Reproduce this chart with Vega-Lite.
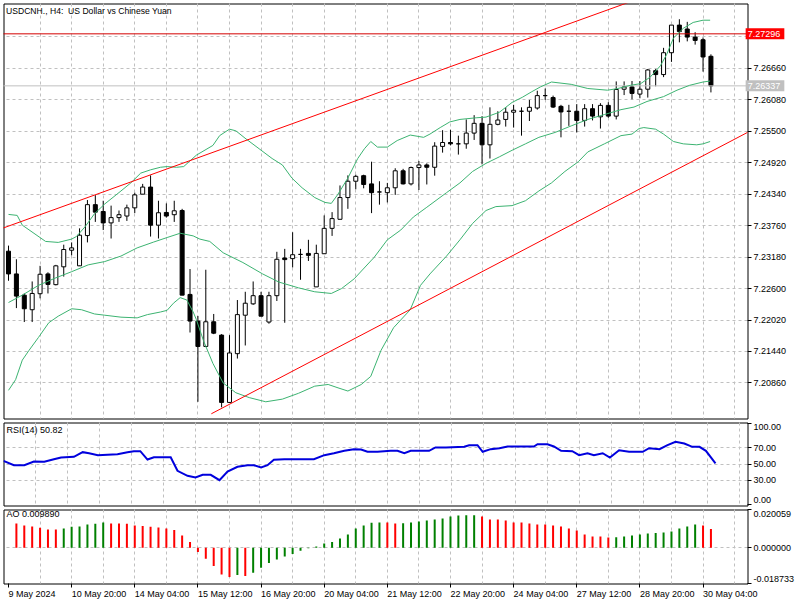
{
  "$schema": "https://vega.github.io/schema/vega-lite/v6.json",
  "background": "white",
  "padding": {"left": 2.5, "top": 2.5, "right": 0, "bottom": 0},
  "spacing": 2,
  "config": {
    "view": {"stroke": "#000000", "strokeWidth": 1},
    "font": "Liberation Sans",
    "axis": {"labelFont": "Liberation Sans", "labelFontSize": 9, "labelColor": "#000000", "tickColor": "#000000", "tickWidth": 1, "gridColor": "#c0c0c0", "gridDash": [3, 3], "gridWidth": 1, "domain": false, "translate": 0, "labelOverlap": false, "tickCount": 40},
    "title": {"font": "Liberation Sans", "fontWeight": "normal", "color": "#000000", "anchor": "start"}
  },
  "datasets": {
    "candles": [
      {"i":0,"o":7.23289,"h":7.23392,"l":7.22744,"c":7.22870},
      {"i":1,"o":7.22870,"h":7.23140,"l":7.22240,"c":7.22461},
      {"i":2,"o":7.22479,"h":7.22510,"l":7.21983,"c":7.22228},
      {"i":3,"o":7.22210,"h":7.22731,"l":7.21983,"c":7.22510},
      {"i":4,"o":7.22505,"h":7.23019,"l":7.22420,"c":7.22864},
      {"i":5,"o":7.22870,"h":7.22900,"l":7.22510,"c":7.22677},
      {"i":6,"o":7.22672,"h":7.23037,"l":7.22659,"c":7.23019},
      {"i":7,"o":7.23001,"h":7.23409,"l":7.22821,"c":7.23320},
      {"i":8,"o":7.23307,"h":7.23451,"l":7.23212,"c":7.23350},
      {"i":9,"o":7.23019,"h":7.23710,"l":7.23019,"c":7.23584},
      {"i":10,"o":7.23577,"h":7.24232,"l":7.23451,"c":7.24147},
      {"i":11,"o":7.24147,"h":7.24322,"l":7.23829,"c":7.24009},
      {"i":12,"o":7.24021,"h":7.24219,"l":7.23679,"c":7.23811},
      {"i":13,"o":7.23811,"h":7.24129,"l":7.23523,"c":7.23908},
      {"i":14,"o":7.23908,"h":7.24039,"l":7.23829,"c":7.23962},
      {"i":15,"o":7.23937,"h":7.24147,"l":7.23847,"c":7.24088},
      {"i":16,"o":7.24088,"h":7.24368,"l":7.23991,"c":7.24327},
      {"i":17,"o":7.24340,"h":7.24530,"l":7.24340,"c":7.24471},
      {"i":18,"o":7.24471,"h":7.24687,"l":7.23559,"c":7.23769},
      {"i":19,"o":7.23769,"h":7.24219,"l":7.23523,"c":7.23998},
      {"i":20,"o":7.24003,"h":7.24170,"l":7.23908,"c":7.23937},
      {"i":21,"o":7.23962,"h":7.24219,"l":7.23829,"c":7.24034},
      {"i":22,"o":7.24039,"h":7.24070,"l":7.22479,"c":7.22479},
      {"i":23,"o":7.22492,"h":7.22960,"l":7.21790,"c":7.22001},
      {"i":24,"o":7.22001,"h":7.22096,"l":7.20513,"c":7.21533},
      {"i":25,"o":7.21533,"h":7.22947,"l":7.21521,"c":7.21988},
      {"i":26,"o":7.21988,"h":7.22132,"l":7.21760,"c":7.21778},
      {"i":27,"o":7.21742,"h":7.21760,"l":7.20411,"c":7.20501},
      {"i":28,"o":7.20501,"h":7.21742,"l":7.20490,"c":7.21413},
      {"i":29,"o":7.21400,"h":7.22389,"l":7.21310,"c":7.22120},
      {"i":30,"o":7.22109,"h":7.22541,"l":7.21551,"c":7.22330},
      {"i":31,"o":7.22318,"h":7.22731,"l":7.22300,"c":7.22469},
      {"i":32,"o":7.22469,"h":7.22541,"l":7.22091,"c":7.22091},
      {"i":33,"o":7.21983,"h":7.22541,"l":7.21952,"c":7.22469},
      {"i":34,"o":7.22469,"h":7.23278,"l":7.22371,"c":7.23140},
      {"i":35,"o":7.23163,"h":7.23332,"l":7.21970,"c":7.23134},
      {"i":36,"o":7.23152,"h":7.23638,"l":7.22990,"c":7.23224},
      {"i":37,"o":7.23230,"h":7.23332,"l":7.22762,"c":7.23230},
      {"i":38,"o":7.23248,"h":7.23499,"l":7.23109,"c":7.23212},
      {"i":39,"o":7.22631,"h":7.23409,"l":7.22631,"c":7.23248},
      {"i":40,"o":7.23242,"h":7.23949,"l":7.23242,"c":7.23710},
      {"i":41,"o":7.23710,"h":7.24009,"l":7.23571,"c":7.23890},
      {"i":42,"o":7.23877,"h":7.24501,"l":7.23877,"c":7.24278},
      {"i":43,"o":7.24278,"h":7.24687,"l":7.24070,"c":7.24579},
      {"i":44,"o":7.24579,"h":7.24699,"l":7.24430,"c":7.24669},
      {"i":45,"o":7.24681,"h":7.24699,"l":7.24448,"c":7.24519},
      {"i":46,"o":7.24530,"h":7.24939,"l":7.23991,"c":7.24368},
      {"i":47,"o":7.24381,"h":7.24579,"l":7.24147,"c":7.24381},
      {"i":48,"o":7.24368,"h":7.24548,"l":7.24188,"c":7.24458},
      {"i":49,"o":7.24458,"h":7.24818,"l":7.24327,"c":7.24771},
      {"i":50,"o":7.24771,"h":7.24807,"l":7.24519,"c":7.24530},
      {"i":51,"o":7.24530,"h":7.24849,"l":7.24501,"c":7.24831},
      {"i":52,"o":7.24831,"h":7.24951,"l":7.24417,"c":7.24879},
      {"i":53,"o":7.24879,"h":7.24908,"l":7.24519,"c":7.24836},
      {"i":54,"o":7.24836,"h":7.25298,"l":7.24681,"c":7.25226},
      {"i":55,"o":7.25221,"h":7.25520,"l":7.25106,"c":7.25293},
      {"i":56,"o":7.25293,"h":7.25527,"l":7.25239,"c":7.25268},
      {"i":57,"o":7.25268,"h":7.25419,"l":7.25070,"c":7.25268},
      {"i":58,"o":7.25268,"h":7.25718,"l":7.25178,"c":7.25466},
      {"i":59,"o":7.25466,"h":7.25797,"l":7.25340,"c":7.25646},
      {"i":60,"o":7.25646,"h":7.25779,"l":7.24890,"c":7.25250},
      {"i":61,"o":7.25250,"h":7.25941,"l":7.24998,"c":7.25628},
      {"i":62,"o":7.25628,"h":7.25869,"l":7.25610,"c":7.25707},
      {"i":63,"o":7.25718,"h":7.25946,"l":7.25586,"c":7.25851},
      {"i":64,"o":7.25851,"h":7.25987,"l":7.25568,"c":7.25887},
      {"i":65,"o":7.25869,"h":7.25941,"l":7.25419,"c":7.25869},
      {"i":66,"o":7.25869,"h":7.26077,"l":7.25689,"c":7.25941},
      {"i":67,"o":7.25928,"h":7.26247,"l":7.25898,"c":7.26157},
      {"i":68,"o":7.26157,"h":7.26288,"l":7.26077,"c":7.26157},
      {"i":69,"o":7.26121,"h":7.26157,"l":7.25928,"c":7.25946},
      {"i":70,"o":7.25959,"h":7.25987,"l":7.25388,"c":7.25856},
      {"i":71,"o":7.25869,"h":7.25987,"l":7.25599,"c":7.25869},
      {"i":72,"o":7.25869,"h":7.26000,"l":7.25478,"c":7.25700},
      {"i":73,"o":7.25700,"h":7.26000,"l":7.25586,"c":7.25916},
      {"i":74,"o":7.25916,"h":7.26000,"l":7.25700,"c":7.25779},
      {"i":75,"o":7.25766,"h":7.26018,"l":7.25550,"c":7.25977},
      {"i":76,"o":7.25977,"h":7.26036,"l":7.25748,"c":7.25779},
      {"i":77,"o":7.25779,"h":7.26419,"l":7.25718,"c":7.26270},
      {"i":78,"o":7.26275,"h":7.26419,"l":7.26167,"c":7.26318},
      {"i":79,"o":7.26318,"h":7.26426,"l":7.26090,"c":7.26198},
      {"i":80,"o":7.26185,"h":7.26426,"l":7.26108,"c":7.26275},
      {"i":81,"o":7.26275,"h":7.26648,"l":7.26121,"c":7.26630},
      {"i":82,"o":7.26617,"h":7.26648,"l":7.26329,"c":7.26545},
      {"i":83,"o":7.26545,"h":7.27038,"l":7.26498,"c":7.26948},
      {"i":84,"o":7.26948,"h":7.27457,"l":7.26779,"c":7.27457},
      {"i":85,"o":7.27457,"h":7.27565,"l":7.27139,"c":7.27337},
      {"i":86,"o":7.27385,"h":7.27517,"l":7.27157,"c":7.27236},
      {"i":87,"o":7.27236,"h":7.27326,"l":7.27097,"c":7.27175},
      {"i":88,"o":7.27187,"h":7.27229,"l":7.26599,"c":7.26869},
      {"i":89,"o":7.26882,"h":7.26918,"l":7.26216,"c":7.26337}
    ],
    "bb": [
      {"b":"u","i":0,"v":7.23967},{"b":"u","i":1.1,"v":7.23949},{"b":"u","i":1.75,"v":7.23769},{"b":"u","i":4.7,"v":7.23469},{"b":"u","i":6.3,"v":7.23451},{"b":"u","i":8,"v":7.23512},{"b":"u","i":8.6,"v":7.23559},{"b":"u","i":9.7,"v":7.23739},{"b":"u","i":10.9,"v":7.23980},{"b":"u","i":12.2,"v":7.24160},{"b":"u","i":14.25,"v":7.24399},{"b":"u","i":15.5,"v":7.24548},{"b":"u","i":16.75,"v":7.24728},{"b":"u","i":18,"v":7.24789},{"b":"u","i":19.25,"v":7.24836},{"b":"u","i":20.1,"v":7.24849},{"b":"u","i":21.3,"v":7.24836},{"b":"u","i":22.2,"v":7.24849},{"b":"u","i":23.8,"v":7.25059},{"b":"u","i":25.9,"v":7.25239},{"b":"u","i":26.75,"v":7.25419},{"b":"u","i":28,"v":7.25538},{"b":"u","i":28.8,"v":7.25509},{"b":"u","i":30.1,"v":7.25358},{"b":"u","i":31.75,"v":7.25178},{"b":"u","i":33.4,"v":7.24998},{"b":"u","i":34.7,"v":7.24879},{"b":"u","i":35.9,"v":7.24638},{"b":"u","i":37.2,"v":7.24458},{"b":"u","i":38.8,"v":7.24278},{"b":"u","i":40.1,"v":7.24188},{"b":"u","i":40.9,"v":7.24170},{"b":"u","i":41.75,"v":7.24340},{"b":"u","i":43,"v":7.24638},{"b":"u","i":44.25,"v":7.24998},{"b":"u","i":45.1,"v":7.25178},{"b":"u","i":45.9,"v":7.25311},{"b":"u","i":46.75,"v":7.25208},{"b":"u","i":48,"v":7.25208},{"b":"u","i":49.25,"v":7.25329},{"b":"u","i":50.9,"v":7.25430},{"b":"u","i":52.6,"v":7.25388},{"b":"u","i":53.4,"v":7.25448},{"b":"u","i":54.7,"v":7.25568},{"b":"u","i":55.9,"v":7.25671},{"b":"u","i":57.2,"v":7.25718},{"b":"u","i":59.25,"v":7.25748},{"b":"u","i":60.5,"v":7.25761},{"b":"u","i":62.2,"v":7.25851},{"b":"u","i":63.8,"v":7.26031},{"b":"u","i":65.1,"v":7.26126},{"b":"u","i":66.3,"v":7.26229},{"b":"u","i":67.4,"v":7.26318},{"b":"u","i":68.8,"v":7.26408},{"b":"u","i":71.3,"v":7.26365},{"b":"u","i":73.4,"v":7.26288},{"b":"u","i":75.9,"v":7.26257},{"b":"u","i":77.2,"v":7.26288},{"b":"u","i":78.8,"v":7.26347},{"b":"u","i":80.1,"v":7.26378},{"b":"u","i":81.3,"v":7.26498},{"b":"u","i":82.6,"v":7.26707},{"b":"u","i":83.4,"v":7.26918},{"b":"u","i":84.25,"v":7.27218},{"b":"u","i":85.5,"v":7.27398},{"b":"u","i":86.75,"v":7.27506},{"b":"u","i":88,"v":7.27547},{"b":"u","i":88.9,"v":7.27547},
      {"b":"m","i":0,"v":7.22343},{"b":"m","i":1.75,"v":7.22479},{"b":"m","i":3.8,"v":7.22659},{"b":"m","i":5.9,"v":7.22792},{"b":"m","i":8,"v":7.22911},{"b":"m","i":10.1,"v":7.23037},{"b":"m","i":12.2,"v":7.23098},{"b":"m","i":14.25,"v":7.23199},{"b":"m","i":16.3,"v":7.23350},{"b":"m","i":18.4,"v":7.23458},{"b":"m","i":20.1,"v":7.23541},{"b":"m","i":21.75,"v":7.23620},{"b":"m","i":23.4,"v":7.23571},{"b":"m","i":24.25,"v":7.23512},{"b":"m","i":25.5,"v":7.23469},{"b":"m","i":27.2,"v":7.23260},{"b":"m","i":29.7,"v":7.23080},{"b":"m","i":32.2,"v":7.22870},{"b":"m","i":34.25,"v":7.22720},{"b":"m","i":36.75,"v":7.22613},{"b":"m","i":38.8,"v":7.22541},{"b":"m","i":40.9,"v":7.22510},{"b":"m","i":42.2,"v":7.22600},{"b":"m","i":43.8,"v":7.22780},{"b":"m","i":45.9,"v":7.23109},{"b":"m","i":46.3,"v":7.23170},{"b":"m","i":48,"v":7.23499},{"b":"m","i":49.7,"v":7.23679},{"b":"m","i":51.3,"v":7.23919},{"b":"m","i":53,"v":7.24099},{"b":"m","i":55.5,"v":7.24368},{"b":"m","i":57.2,"v":7.24548},{"b":"m","i":58.8,"v":7.24759},{"b":"m","i":60.5,"v":7.24908},{"b":"m","i":62.2,"v":7.25029},{"b":"m","i":63.8,"v":7.25149},{"b":"m","i":65.5,"v":7.25268},{"b":"m","i":67.2,"v":7.25388},{"b":"m","i":69.25,"v":7.25478},{"b":"m","i":71.3,"v":7.25599},{"b":"m","i":73.4,"v":7.25718},{"b":"m","i":75.5,"v":7.25808},{"b":"m","i":77.6,"v":7.25898},{"b":"m","i":79.25,"v":7.25946},{"b":"m","i":80.9,"v":7.26049},{"b":"m","i":83,"v":7.26139},{"b":"m","i":84.7,"v":7.26257},{"b":"m","i":86.3,"v":7.26347},{"b":"m","i":88,"v":7.26408},{"b":"m","i":88.9,"v":7.26426},
      {"b":"l","i":0,"v":7.20724},{"b":"l","i":0.9,"v":7.20921},{"b":"l","i":1.75,"v":7.21281},{"b":"l","i":2.6,"v":7.21461},{"b":"l","i":3.8,"v":7.21700},{"b":"l","i":5.1,"v":7.21970},{"b":"l","i":6.3,"v":7.22091},{"b":"l","i":8,"v":7.22228},{"b":"l","i":9.25,"v":7.22210},{"b":"l","i":10.9,"v":7.22132},{"b":"l","i":12.2,"v":7.22109},{"b":"l","i":14.25,"v":7.22073},{"b":"l","i":16.3,"v":7.22060},{"b":"l","i":17.6,"v":7.22120},{"b":"l","i":19.25,"v":7.22168},{"b":"l","i":20.1,"v":7.22199},{"b":"l","i":20.9,"v":7.22330},{"b":"l","i":21.75,"v":7.22433},{"b":"l","i":22.6,"v":7.22389},{"b":"l","i":23.4,"v":7.22168},{"b":"l","i":23.8,"v":7.22030},{"b":"l","i":24.7,"v":7.21641},{"b":"l","i":25.9,"v":7.21220},{"b":"l","i":27.2,"v":7.20860},{"b":"l","i":28.8,"v":7.20680},{"b":"l","i":30.5,"v":7.20590},{"b":"l","i":32.6,"v":7.20513},{"b":"l","i":34.7,"v":7.20562},{"b":"l","i":36.75,"v":7.20670},{"b":"l","i":38.8,"v":7.20801},{"b":"l","i":40.5,"v":7.20832},{"b":"l","i":41.75,"v":7.20770},{"b":"l","i":43,"v":7.20711},{"b":"l","i":44.7,"v":7.20832},{"b":"l","i":45.9,"v":7.20981},{"b":"l","i":47.2,"v":7.21461},{"b":"l","i":48.8,"v":7.21880},{"b":"l","i":50.9,"v":7.22210},{"b":"l","i":52.2,"v":7.22659},{"b":"l","i":53.4,"v":7.22870},{"b":"l","i":55.5,"v":7.23199},{"b":"l","i":57.2,"v":7.23499},{"b":"l","i":58.8,"v":7.23800},{"b":"l","i":60.5,"v":7.24039},{"b":"l","i":61.75,"v":7.24111},{"b":"l","i":63.8,"v":7.24129},{"b":"l","i":65.5,"v":7.24219},{"b":"l","i":67.2,"v":7.24399},{"b":"l","i":68.8,"v":7.24548},{"b":"l","i":70.5,"v":7.24759},{"b":"l","i":72.2,"v":7.24939},{"b":"l","i":73.4,"v":7.25119},{"b":"l","i":75.5,"v":7.25268},{"b":"l","i":77.6,"v":7.25419},{"b":"l","i":79,"v":7.25448},{"b":"l","i":79.9,"v":7.25550},{"b":"l","i":80.5,"v":7.25568},{"b":"l","i":82,"v":7.25538},{"b":"l","i":83,"v":7.25448},{"b":"l","i":84.25,"v":7.25311},{"b":"l","i":85.5,"v":7.25268},{"b":"l","i":87.2,"v":7.25250},{"b":"l","i":88,"v":7.25268},{"b":"l","i":88.9,"v":7.25311}
    ],
    "channel": [
      {"line":"upper","i":-1,"v":7.23699},{"line":"upper","i":95,"v":7.28739},
      {"line":"lower","i":25.7,"v":7.20292},{"line":"lower","i":95,"v":7.25583}
    ],
    "rsi": [
      {"i":0,"v":53.9},{"i":1.3,"v":48.5},{"i":2.6,"v":48.5},{"i":3.8,"v":53.1},{"i":5.1,"v":52.7},{"i":6.3,"v":55.9},{"i":7.2,"v":58.0},{"i":8.8,"v":58.9},{"i":9.9,"v":64.6},{"i":10.7,"v":63.3},{"i":11.8,"v":60.9},{"i":13,"v":61.4},{"i":14.25,"v":62.1},{"i":15.5,"v":64.6},{"i":16.3,"v":65.8},{"i":17.1,"v":65.8},{"i":18,"v":55.5},{"i":18.8,"v":58.4},{"i":20.9,"v":58.4},{"i":21.75,"v":41.6},{"i":23,"v":35.4},{"i":24,"v":33.3},{"i":24.9,"v":36.7},{"i":25.9,"v":36.7},{"i":27,"v":30.0},{"i":28,"v":40.7},{"i":29.25,"v":46.5},{"i":30.5,"v":48.5},{"i":31.3,"v":48.5},{"i":32.2,"v":45.7},{"i":33,"v":48.5},{"i":33.8,"v":55.2},{"i":35.1,"v":55.9},{"i":38.8,"v":55.9},{"i":40.1,"v":60.9},{"i":41.3,"v":63.3},{"i":42.6,"v":66.3},{"i":43.8,"v":68.3},{"i":44.7,"v":67.9},{"i":45.5,"v":65.1},{"i":46.75,"v":65.1},{"i":48.4,"v":66.3},{"i":49.25,"v":66.3},{"i":50.1,"v":63.3},{"i":50.9,"v":66.3},{"i":52.2,"v":66.3},{"i":53.2,"v":66.3},{"i":54,"v":70.4},{"i":55.3,"v":70.4},{"i":57.6,"v":71.2},{"i":58.2,"v":73.2},{"i":59.25,"v":73.2},{"i":59.9,"v":65.1},{"i":60.9,"v":68.3},{"i":62,"v":69.5},{"i":63,"v":71.6},{"i":65.1,"v":71.6},{"i":66.3,"v":71.6},{"i":66.75,"v":74.4},{"i":68,"v":74.4},{"i":68.8,"v":71.6},{"i":69.7,"v":66.3},{"i":71.1,"v":65.8},{"i":71.95,"v":60.9},{"i":73,"v":63.3},{"i":73.8,"v":60.9},{"i":74.9,"v":63.3},{"i":75.8,"v":58.0},{"i":76.95,"v":67.0},{"i":78.2,"v":65.1},{"i":79.9,"v":65.1},{"i":80.7,"v":69.5},{"i":82,"v":68.3},{"i":83,"v":73.2},{"i":84,"v":77.4},{"i":85.1,"v":75.3},{"i":86.1,"v":71.2},{"i":87,"v":71.2},{"i":87.8,"v":66.3},{"i":89,"v":50.82}
    ],
    "ao": [
      {"i":1,"v":0.01275,"dir":"d"},{"i":2,"v":0.01171,"dir":"d"},{"i":3,"v":0.01118,"dir":"d"},{"i":4,"v":0.01048,"dir":"d"},{"i":5,"v":0.00961,"dir":"d"},{"i":6,"v":0.00955,"dir":"d"},{"i":7,"v":0.01013,"dir":"u"},{"i":8,"v":0.01101,"dir":"u"},{"i":9,"v":0.01118,"dir":"u"},{"i":10,"v":0.01223,"dir":"u"},{"i":11,"v":0.01258,"dir":"u"},{"i":12,"v":0.01328,"dir":"u"},{"i":13,"v":0.01275,"dir":"d"},{"i":14,"v":0.01270,"dir":"d"},{"i":15,"v":0.01265,"dir":"d"},{"i":16,"v":0.01171,"dir":"d"},{"i":17,"v":0.01136,"dir":"d"},{"i":18,"v":0.01101,"dir":"d"},{"i":19,"v":0.01066,"dir":"d"},{"i":20,"v":0.01013,"dir":"d"},{"i":21,"v":0.00926,"dir":"d"},{"i":22,"v":0.00646,"dir":"d"},{"i":23,"v":0.00297,"dir":"d"},{"i":24,"v":-0.00227,"dir":"d"},{"i":25,"v":-0.00577,"dir":"d"},{"i":26,"v":-0.00961,"dir":"d"},{"i":27,"v":-0.01398,"dir":"d"},{"i":28,"v":-0.01537,"dir":"d"},{"i":29,"v":-0.01433,"dir":"u"},{"i":30,"v":-0.01485,"dir":"d"},{"i":31,"v":-0.01310,"dir":"u"},{"i":32,"v":-0.01048,"dir":"u"},{"i":33,"v":-0.00804,"dir":"u"},{"i":34,"v":-0.00611,"dir":"u"},{"i":35,"v":-0.00454,"dir":"u"},{"i":36,"v":-0.00332,"dir":"u"},{"i":37,"v":-0.00157,"dir":"u"},{"i":38,"v":-0.00020,"dir":"u"},{"i":39,"v":0.00070,"dir":"u"},{"i":40,"v":0.00227,"dir":"u"},{"i":41,"v":0.00297,"dir":"u"},{"i":42,"v":0.00489,"dir":"u"},{"i":43,"v":0.00699,"dir":"u"},{"i":44,"v":0.01013,"dir":"u"},{"i":45,"v":0.01171,"dir":"u"},{"i":46,"v":0.01310,"dir":"u"},{"i":47,"v":0.01328,"dir":"u"},{"i":48,"v":0.01320,"dir":"d"},{"i":49,"v":0.01275,"dir":"d"},{"i":50,"v":0.01280,"dir":"u"},{"i":51,"v":0.01328,"dir":"u"},{"i":52,"v":0.01380,"dir":"u"},{"i":53,"v":0.01433,"dir":"u"},{"i":54,"v":0.01485,"dir":"u"},{"i":55,"v":0.01537,"dir":"u"},{"i":56,"v":0.01642,"dir":"u"},{"i":57,"v":0.01695,"dir":"u"},{"i":58,"v":0.01700,"dir":"u"},{"i":59,"v":0.01705,"dir":"u"},{"i":60,"v":0.01642,"dir":"d"},{"i":61,"v":0.01485,"dir":"d"},{"i":62,"v":0.01480,"dir":"d"},{"i":63,"v":0.01433,"dir":"d"},{"i":64,"v":0.01328,"dir":"d"},{"i":65,"v":0.01320,"dir":"d"},{"i":66,"v":0.01275,"dir":"d"},{"i":67,"v":0.01223,"dir":"d"},{"i":68,"v":0.01218,"dir":"d"},{"i":69,"v":0.01171,"dir":"d"},{"i":70,"v":0.01118,"dir":"d"},{"i":71,"v":0.01013,"dir":"d"},{"i":72,"v":0.00908,"dir":"d"},{"i":73,"v":0.00699,"dir":"d"},{"i":74,"v":0.00594,"dir":"d"},{"i":75,"v":0.00590,"dir":"d"},{"i":76,"v":0.00542,"dir":"d"},{"i":77,"v":0.00545,"dir":"u"},{"i":78,"v":0.00594,"dir":"u"},{"i":79,"v":0.00646,"dir":"u"},{"i":80,"v":0.00699,"dir":"u"},{"i":81,"v":0.00751,"dir":"u"},{"i":82,"v":0.00769,"dir":"u"},{"i":83,"v":0.00804,"dir":"u"},{"i":84,"v":0.00856,"dir":"u"},{"i":85,"v":0.01013,"dir":"u"},{"i":86,"v":0.01118,"dir":"u"},{"i":87,"v":0.01223,"dir":"u"},{"i":88,"v":0.01171,"dir":"d"},{"i":89,"v":0.00989,"dir":"d"}
    ]
  },
  "vconcat": [
    {
      "width": 744,
      "height": 415,
      "title": {"text": "USDCNH., H4:\u00a0 US Dollar vs Chinese Yuan", "fontSize": 8.6, "offset": -12, "dx": 3},
      "layer": [
        {
          "data": {"name": "candles"},
          "mark": {"type": "rule", "color": "#000000", "strokeWidth": 1, "clip": true},
          "encoding": {
            "x": {"field": "i", "type": "quantitative", "scale": {"domain": [0, 93], "nice": false, "zero": false},
                  "axis": {"title": null, "values": [4,8,12,16,20,24,28,32,36,40,44,48,52,56,60,64,68,72,76,80,84,88,92], "tickCount": 40, "grid": true, "labels": false, "ticks": false, "domain": false}},
            "y": {"field": "h", "type": "quantitative", "scale": {"domain": [7.20297, 7.27763], "nice": false, "zero": false},
                  "axis": {"title": null, "orient": "right", "values": [7.2086, 7.2144, 7.2202, 7.226, 7.2318, 7.2376, 7.2434, 7.2492, 7.255, 7.2608, 7.2666, 7.2724], "tickCount": 40,
                           "labelExpr": "datum.value > 7.272 ? '' : format(datum.value, '.5f')", "tickSize": 4, "labelPadding": 2, "grid": true, "labelFlush": false, "labelOverlap": false}},
            "y2": {"field": "l"}
          }
        },
        {
          "data": {"name": "candles"},
          "mark": {"type": "bar", "size": 4, "stroke": "#000000", "strokeWidth": 1, "orient": "vertical", "clip": true},
          "encoding": {
            "x": {"field": "i", "type": "quantitative"},
            "y": {"field": "o", "type": "quantitative"},
            "y2": {"field": "c"},
            "fill": {"condition": {"test": "datum.c >= datum.o", "value": "#ffffff"}, "value": "#000000"}
          }
        },
        {
          "data": {"values": [{"p": 7.27296}]},
          "mark": {"type": "rule", "color": "#d40000", "strokeWidth": 1},
          "encoding": {"y": {"field": "p", "type": "quantitative"}}
        },
        {
          "data": {"values": [{"p": 7.26337}]},
          "mark": {"type": "rule", "color": "#c0c0c0", "strokeWidth": 1},
          "encoding": {"y": {"field": "p", "type": "quantitative"}}
        },
        {
          "data": {"name": "bb"},
          "mark": {"type": "line", "color": "#3cb371", "strokeWidth": 1, "clip": true},
          "encoding": {
            "x": {"field": "i", "type": "quantitative"},
            "y": {"field": "v", "type": "quantitative"},
            "detail": {"field": "b"}
          }
        },
        {
          "data": {"name": "channel"},
          "mark": {"type": "line", "color": "#ff0000", "strokeWidth": 1, "clip": true},
          "encoding": {
            "x": {"field": "i", "type": "quantitative"},
            "y": {"field": "v", "type": "quantitative"},
            "detail": {"field": "line"}
          }
        },
        {
          "data": {"values": [{"p": 7.27296, "k": "a"}, {"p": 7.26337, "k": "b"}]},
          "mark": {"type": "bar", "size": 11, "orient": "horizontal", "clip": false},
          "encoding": {
            "x": {"datum": 93.4},
            "x2": {"datum": 98.3},
            "y": {"field": "p", "type": "quantitative"},
            "color": {"condition": {"test": "datum.k == 'a'", "value": "#ff0000"}, "value": "#c0c0c0"}
          }
        },
        {
          "data": {"values": [{"p": 7.27296}, {"p": 7.26337}]},
          "mark": {"type": "text", "align": "left", "baseline": "middle", "color": "#ffffff", "font": "Liberation Sans", "fontSize": 9, "clip": false},
          "encoding": {
            "x": {"datum": 93.65},
            "y": {"field": "p", "type": "quantitative"},
            "text": {"field": "p", "type": "quantitative", "format": ".5f"}
          }
        }
      ]
    },
    {
      "width": 744,
      "height": 83,
      "title": {"text": "RSI(14) 50.82", "fontSize": 9, "offset": -12, "dx": 3},
      "data": {"name": "rsi"},
      "mark": {"type": "line", "color": "#0000dd", "strokeWidth": 2, "clip": true},
      "encoding": {
        "x": {"field": "i", "type": "quantitative", "scale": {"domain": [0, 93], "nice": false, "zero": false},
              "axis": {"title": null, "values": [4,8,12,16,20,24,28,32,36,40,44,48,52,56,60,64,68,72,76,80,84,88,92], "tickCount": 40, "grid": true, "labels": false, "ticks": false, "domain": false}},
        "y": {"field": "v", "type": "quantitative", "scale": {"domain": [-1.2, 101.2], "nice": false, "zero": false},
              "axis": {"title": null, "orient": "right", "values": [0, 30, 50, 70, 100], "tickCount": 40, "format": ".2f", "tickSize": 4, "labelPadding": 2, "labelFlush": 2, "labelOverlap": false, "grid": true,
                       "gridOpacity": {"condition": {"test": "datum.value == 0 || datum.value == 100", "value": 0}, "value": 1}}}
      }
    },
    {
      "width": 744,
      "height": 74,
      "title": {"text": "AO 0.009890", "fontSize": 9, "offset": -10, "dx": 3},
      "data": {"name": "ao"},
      "mark": {"type": "bar", "size": 2, "orient": "vertical", "clip": true},
      "encoding": {
        "x": {"field": "i", "type": "quantitative", "scale": {"domain": [0, 93], "nice": false, "zero": false},
              "axis": {"title": null, "values": [0,4,8,12,16,20,24,28,32,36,40,44,48,52,56,60,64,68,72,76,80,84,88,92], "tickCount": 40, "grid": true,
                       "gridOpacity": {"condition": {"test": "datum.value == 0", "value": 0}, "value": 1},
                       "labelExpr": "datum.value % 8 == 0 ? ['9 May 2024','10 May 20:00','14 May 04:00','15 May 12:00','16 May 20:00','20 May 04:00','21 May 12:00','22 May 20:00','24 May 04:00','27 May 12:00','28 May 20:00','30 May 04:00'][datum.value / 8] : ''",
                       "labelAlign": "left", "labelFlush": false, "labelOverlap": false, "labelPadding": 2, "tickSize": 4,
                       "tickOpacity": {"condition": {"test": "datum.value % 8 != 0", "value": 0}, "value": 1}, "domain": false}},
        "y": {"field": "v", "type": "quantitative", "scale": {"domain": [-0.018733, 0.020059], "nice": false, "zero": false},
              "axis": {"title": null, "orient": "right", "values": [-0.018733, 0, 0.020059], "tickCount": 40,
                       "labelExpr": "datum.value < 0 ? '-' + format(-datum.value, '.6f') : format(datum.value, '.6f')",
                       "tickSize": 4, "labelPadding": 2, "labelFlush": 2, "labelOverlap": false, "grid": true,
                       "gridOpacity": {"condition": {"test": "datum.value != 0", "value": 0}, "value": 1}}},
        "y2": {"datum": 0},
        "color": {"condition": {"test": "datum.dir == 'u'", "value": "#008000"}, "value": "#ff0000"}
      }
    }
  ]
}
